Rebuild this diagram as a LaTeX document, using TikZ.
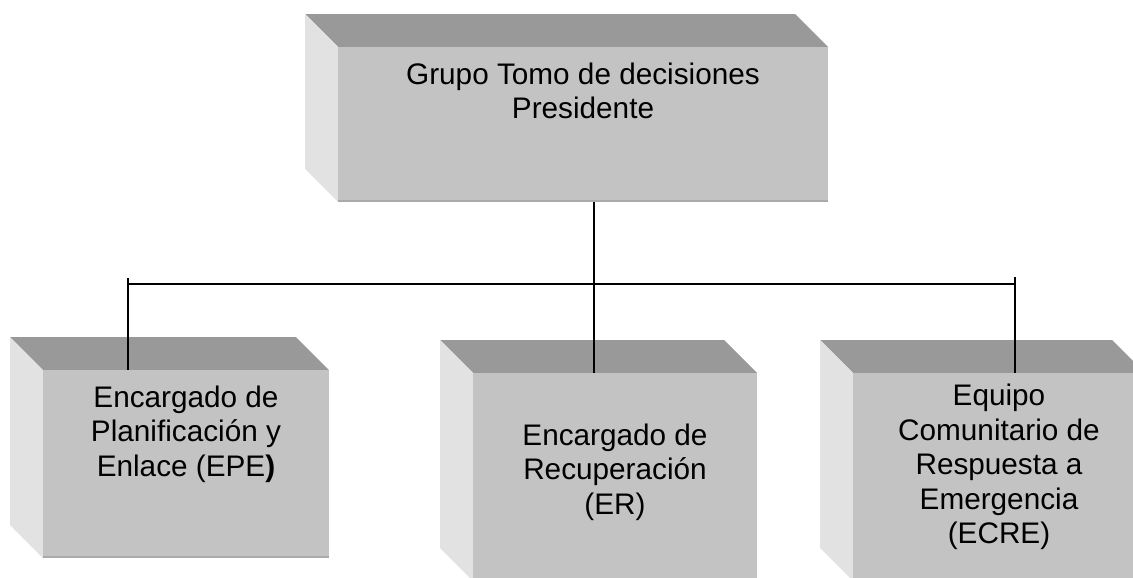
\documentclass[tikz,border=0pt]{standalone}
\usepackage{fontspec}
\setmainfont{Liberation Sans}
\usetikzlibrary{calc}

\definecolor{caraFrente}{RGB}{195,195,195}
\definecolor{caraArriba}{RGB}{153,153,153}
\definecolor{caraLado}{RGB}{226,226,226}
\definecolor{bordeBajo}{RGB}{170,170,170}

\tikzset{
  frente/.style={fill=caraFrente},
  arriba/.style={fill=caraArriba},
  lado/.style={fill=caraLado},
  enlace/.style={line width=1.1pt},
  texto/.style={inner sep=0.75pt, align=center, font=\fontsize{22.3}{25.9}\selectfont}
}

% bevelled box: name, front face x1,y1,x2,y2
\newcommand{\cajaBisel}[5]{%
  \coordinate (#1-nw) at (#2,#3);
  \coordinate (#1-ne) at (#4,#3);
  \coordinate (#1-sw) at (#2,#5);
  \coordinate (#1-se) at (#4,#5);
  \fill[arriba] (#1-nw) -- ++(-33,-33) -- ++(#4-#2,0) -- (#1-ne) -- cycle;
  \fill[lado] (#1-nw) -- ++(-33,-33) -- ++(0,#5-#3) -- (#1-sw) -- cycle;
  \fill[frente] (#1-nw) rectangle (#1-se);
  \draw[bordeBajo, line width=1.5pt] ($(#1-sw)+(0,-1)$) -- ($(#1-se)+(0,-1)$);
}

\begin{document}
\begin{tikzpicture}[x=0.75pt,y=0.75pt,yscale=-1,xscale=1]
\useasboundingbox (0,0) rectangle (1133,578);
\clip (0,0) rectangle (1133,578);

%Shape: Boxes
\cajaBisel{pres}{338}{47}{828}{202}
\cajaBisel{epe}{43}{370}{329}{558}
\cajaBisel{er}{473}{373}{757}{581}
\cajaBisel{ecre}{853}{373}{1145}{581}

% Text Node
\node[texto] (grupo) at (583,91) {Grupo Tomo de decisiones\\Presidente};
% Text Node
\node[texto] (planif) at (186,434) {Encargado de\\Planificación y\\Enlace (EPE\textbf{)}};
% Text Node
\node[texto] (recup) at (615,472) {Encargado de\\Recuperación\\(ER)};
% Text Node
\node[texto] (equipo) at (999,467) {Equipo\\Comunitario de\\Respuesta a\\Emergencia\\(ECRE)};

%Straight Lines
\coordinate (pres-pie) at (594,202);
\coordinate (er-pie) at (594,373);
\coordinate (bus-w) at (128,284);
\coordinate (bus-e) at (1015,284);
\coordinate (bus-mw) at (244,284);
\coordinate (bus-me) at (898,284);
\coordinate (epe-punta) at (128,278);
\coordinate (epe-pie) at (128,370);
\coordinate (ecre-punta) at (1015,277);
\coordinate (ecre-pie) at (1015,373);

\draw[enlace] (pres-pie) -- (er-pie);
\draw[enlace, line width=0.9pt] (bus-w) -- (bus-e);
\draw[enlace, line width=1.6pt] (bus-mw) -- (bus-me);
\draw[enlace] (epe-punta) -- (epe-pie);
\draw[enlace] (ecre-punta) -- (ecre-pie);

\end{tikzpicture}
\end{document}
